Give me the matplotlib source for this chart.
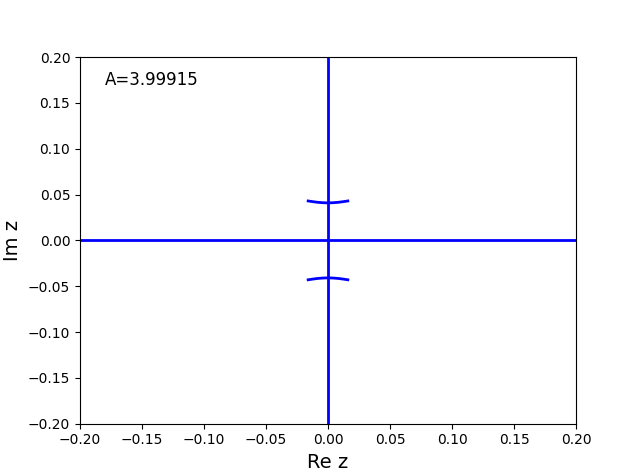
import matplotlib
matplotlib.use("Agg")
import matplotlib.pyplot as plt

A = 3.99915

# real and imaginary axis branches
re_line_x = [-0.2, 0.2]
re_line_y = [0.0, 0.0]
im_line_x = [0.0, 0.0]
im_line_y = [-0.2, 0.2]

# small arcs near +/- i*0.041
arc_x = [-0.016, -0.012, -0.008, -0.004, 0.0, 0.004, 0.008, 0.012, 0.016]
arc_y = [0.0430, 0.0422, 0.0415, 0.0411, 0.0409, 0.0411, 0.0415, 0.0422, 0.0430]

fig = plt.figure(figsize=(6.4, 4.76), dpi=100)
ax = fig.add_subplot(111)

ax.plot(re_line_x, re_line_y, color="blue", lw=2)
ax.plot(im_line_x, im_line_y, color="blue", lw=2)
ax.plot(arc_x, arc_y, color="blue", lw=2)
ax.plot(arc_x, [-v for v in arc_y], color="blue", lw=2)

ax.set_xlim(-0.2, 0.2)
ax.set_ylim(-0.2, 0.2)
ax.set_xlabel("Re z", fontsize=14)
ax.set_ylabel("Im z", fontsize=14)
ax.text(0.05, 0.937, f"A={A}", transform=ax.transAxes, fontsize=12, va="center")

fig.savefig("out.png", dpi=100)
